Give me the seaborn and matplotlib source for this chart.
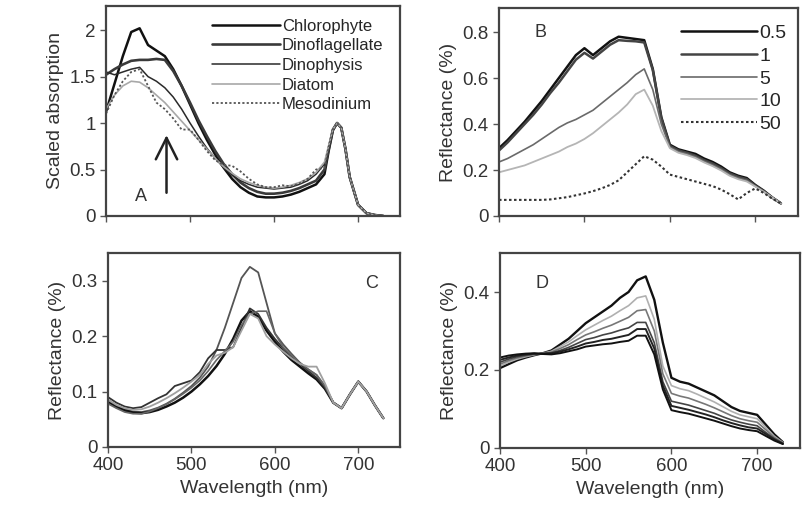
#!/usr/bin/env python3
"""
Absorption and reflectance spectra, four panels (A-D).
"""

import numpy as np
import pandas as pd
import matplotlib
matplotlib.use("Agg")
import matplotlib.pyplot as plt
from matplotlib.ticker import FuncFormatter
import seaborn as sns

# ------------------------------------------------------------
# Data
# ------------------------------------------------------------
WAVE_A = [400, 410, 420, 430, 440, 450, 460, 470, 480, 490, 500, 510, 520,
          530, 540, 550, 560, 570, 580, 590, 600, 610, 620, 630, 640, 650,
          660, 665, 670, 675, 680, 685, 690, 700, 710, 720, 730]

chlorophyte = [1.12, 1.42, 1.72, 1.98, 2.02, 1.84, 1.78, 1.72, 1.58, 1.40, 1.20, 1.00, 0.82,
               0.66, 0.52, 0.40, 0.31, 0.25, 0.21, 0.20, 0.20, 0.21, 0.23, 0.26, 0.30, 0.34,
               0.45, 0.70, 0.92, 1.00, 0.95, 0.72, 0.42, 0.12, 0.03, 0.01, 0.00]
dinoflagellate = [1.52, 1.58, 1.63, 1.67, 1.68, 1.68, 1.69, 1.68, 1.56, 1.40, 1.22, 1.03, 0.86,
                  0.70, 0.56, 0.45, 0.36, 0.30, 0.26, 0.24, 0.24, 0.25, 0.27, 0.30, 0.34, 0.38,
                  0.50, 0.72, 0.93, 1.00, 0.95, 0.72, 0.42, 0.12, 0.03, 0.01, 0.00]
dinophysis = [1.55, 1.52, 1.55, 1.58, 1.60, 1.50, 1.45, 1.38, 1.28, 1.15, 1.00, 0.86, 0.73,
              0.62, 0.52, 0.44, 0.38, 0.34, 0.31, 0.30, 0.29, 0.30, 0.31, 0.34, 0.38, 0.45,
              0.56, 0.75, 0.93, 1.00, 0.95, 0.72, 0.42, 0.12, 0.03, 0.01, 0.00]
diatom = [1.15, 1.30, 1.40, 1.45, 1.44, 1.38, 1.30, 1.22, 1.12, 1.02, 0.92, 0.82, 0.72,
          0.62, 0.53, 0.46, 0.40, 0.36, 0.33, 0.31, 0.30, 0.31, 0.33, 0.36, 0.40, 0.47,
          0.58, 0.76, 0.93, 1.00, 0.95, 0.72, 0.42, 0.12, 0.03, 0.01, 0.00]
mesodinium = [1.10, 1.30, 1.45, 1.55, 1.58, 1.40, 1.22, 1.15, 1.05, 0.93, 0.93, 0.82, 0.70,
              0.60, 0.55, 0.54, 0.48, 0.40, 0.34, 0.31, 0.31, 0.33, 0.32, 0.35, 0.40, 0.50,
              0.52, 0.74, 0.93, 1.00, 0.95, 0.72, 0.42, 0.12, 0.03, 0.01, 0.00]

WAVE = [400, 410, 420, 430, 440, 450, 460, 470, 480, 490, 500, 510, 520, 530,
        540, 550, 560, 570, 580, 590, 600, 610, 620, 630, 640, 650, 660, 670,
        680, 690, 700, 710, 720, 730]

# Panel B
b_05 = [0.295, 0.33, 0.37, 0.41, 0.455, 0.50, 0.55, 0.60, 0.65, 0.70, 0.73, 0.70, 0.73, 0.76,
        0.78, 0.775, 0.77, 0.765, 0.64, 0.43, 0.31, 0.29, 0.28, 0.27, 0.25, 0.235, 0.215, 0.19,
        0.175, 0.165, 0.135, 0.11, 0.08, 0.055]
b_1 = [0.285, 0.32, 0.36, 0.40, 0.44, 0.485, 0.535, 0.58, 0.63, 0.68, 0.71, 0.685, 0.715, 0.745,
       0.765, 0.762, 0.76, 0.755, 0.635, 0.425, 0.305, 0.285, 0.275, 0.262, 0.243, 0.228, 0.208, 0.185,
       0.17, 0.16, 0.132, 0.108, 0.08, 0.055]
b_5 = [0.235, 0.25, 0.27, 0.29, 0.31, 0.335, 0.36, 0.385, 0.405, 0.42, 0.44, 0.46, 0.49, 0.52,
       0.55, 0.58, 0.615, 0.64, 0.55, 0.40, 0.30, 0.28, 0.27, 0.257, 0.238, 0.222, 0.203, 0.18,
       0.165, 0.155, 0.13, 0.107, 0.08, 0.055]
b_10 = [0.19, 0.20, 0.21, 0.22, 0.235, 0.25, 0.265, 0.28, 0.30, 0.315, 0.335, 0.36, 0.39, 0.42,
        0.45, 0.485, 0.53, 0.55, 0.48, 0.37, 0.295, 0.275, 0.265, 0.252, 0.233, 0.217, 0.198, 0.175,
        0.16, 0.15, 0.128, 0.105, 0.08, 0.055]
b_50 = [0.07, 0.07, 0.07, 0.07, 0.07, 0.07, 0.072, 0.077, 0.082, 0.09, 0.098, 0.108, 0.12, 0.135,
        0.155, 0.19, 0.225, 0.26, 0.245, 0.215, 0.18, 0.17, 0.16, 0.15, 0.14, 0.13, 0.115, 0.095,
        0.072, 0.10, 0.12, 0.10, 0.075, 0.055]

# Panel C
c_1 = [0.085, 0.075, 0.068, 0.064, 0.063, 0.066, 0.071, 0.078, 0.087, 0.098, 0.11, 0.125, 0.145, 0.175,
       0.215, 0.26, 0.305, 0.325, 0.315, 0.26, 0.205, 0.185, 0.168, 0.152, 0.14, 0.13, 0.11, 0.08,
       0.07, 0.095, 0.118, 0.10, 0.075, 0.052]
c_2 = [0.082, 0.072, 0.066, 0.062, 0.061, 0.063, 0.067, 0.073, 0.08, 0.089, 0.10, 0.113, 0.128, 0.146,
       0.168, 0.195, 0.228, 0.245, 0.235, 0.21, 0.19, 0.172, 0.157, 0.145, 0.133, 0.122, 0.105, 0.08,
       0.07, 0.095, 0.118, 0.10, 0.075, 0.052]
c_3 = [0.09, 0.08, 0.073, 0.07, 0.072, 0.08, 0.088, 0.095, 0.11, 0.115, 0.12, 0.135, 0.16, 0.175,
       0.175, 0.18, 0.215, 0.25, 0.24, 0.215, 0.195, 0.178, 0.162, 0.15, 0.137, 0.125, 0.107, 0.08,
       0.07, 0.095, 0.118, 0.10, 0.075, 0.052]
c_4 = [0.078, 0.07, 0.063, 0.06, 0.06, 0.064, 0.07, 0.077, 0.086, 0.096, 0.107, 0.12, 0.137, 0.157,
       0.173, 0.19, 0.22, 0.24, 0.245, 0.245, 0.205, 0.18, 0.165, 0.152, 0.14, 0.13, 0.11, 0.08,
       0.07, 0.095, 0.118, 0.10, 0.075, 0.052]
c_5 = [0.085, 0.076, 0.07, 0.067, 0.068, 0.073, 0.08, 0.088, 0.097, 0.107, 0.118, 0.13, 0.15, 0.165,
       0.17, 0.18, 0.21, 0.24, 0.232, 0.20, 0.185, 0.172, 0.16, 0.15, 0.145, 0.145, 0.115, 0.08,
       0.07, 0.095, 0.118, 0.10, 0.075, 0.052]

# Panel D
d_1 = [0.205, 0.215, 0.225, 0.232, 0.238, 0.243, 0.25, 0.265, 0.28, 0.30, 0.32, 0.335, 0.35, 0.365,
       0.385, 0.40, 0.43, 0.44, 0.38, 0.27, 0.18, 0.17, 0.165, 0.155, 0.145, 0.135, 0.12, 0.105,
       0.095, 0.09, 0.085, 0.06, 0.035, 0.015]
d_2 = [0.21, 0.22, 0.228, 0.234, 0.239, 0.243, 0.248, 0.26, 0.272, 0.288, 0.303, 0.315, 0.327, 0.338,
       0.352, 0.365, 0.385, 0.39, 0.33, 0.21, 0.16, 0.152, 0.147, 0.138, 0.128, 0.118, 0.106, 0.094,
       0.085, 0.08, 0.075, 0.053, 0.03, 0.014]
d_3 = [0.215, 0.224, 0.231, 0.236, 0.24, 0.242, 0.246, 0.255, 0.265, 0.278, 0.29, 0.298, 0.307, 0.315,
       0.325, 0.335, 0.352, 0.355, 0.30, 0.19, 0.14, 0.133, 0.128, 0.12, 0.112, 0.103, 0.093, 0.083,
       0.075, 0.07, 0.066, 0.047, 0.027, 0.013]
d_4 = [0.22, 0.228, 0.234, 0.238, 0.241, 0.242, 0.244, 0.25, 0.258, 0.268, 0.278, 0.283, 0.29, 0.295,
       0.302, 0.308, 0.322, 0.322, 0.27, 0.17, 0.12, 0.115, 0.11, 0.103, 0.096, 0.089, 0.08, 0.072,
       0.066, 0.061, 0.057, 0.04, 0.024, 0.012]
d_5 = [0.226, 0.232, 0.237, 0.24, 0.242, 0.242, 0.243, 0.247, 0.253, 0.26, 0.268, 0.272, 0.277, 0.28,
       0.285, 0.29, 0.305, 0.305, 0.255, 0.16, 0.108, 0.103, 0.098, 0.092, 0.086, 0.079, 0.071, 0.064,
       0.058, 0.053, 0.05, 0.036, 0.022, 0.011]
d_6 = [0.232, 0.237, 0.24, 0.242, 0.243, 0.241, 0.24, 0.243, 0.248, 0.253, 0.26, 0.263, 0.266, 0.268,
       0.272, 0.275, 0.288, 0.288, 0.24, 0.15, 0.097, 0.092, 0.088, 0.082, 0.076, 0.07, 0.063, 0.056,
       0.05, 0.046, 0.043, 0.031, 0.019, 0.010]

# ------------------------------------------------------------
# Style
# ------------------------------------------------------------
sns.set_style("ticks")
plt.rcParams['font.family'] = ['Liberation Sans', 'DejaVu Sans']
plt.rcParams['axes.edgecolor'] = '#444444'
plt.rcParams['axes.linewidth'] = 1.6
plt.rcParams['xtick.color'] = '#555555'
plt.rcParams['ytick.color'] = '#555555'
plt.rcParams['xtick.labelcolor'] = '#333333'
plt.rcParams['ytick.labelcolor'] = '#333333'
plt.rcParams['xtick.major.size'] = 4
plt.rcParams['ytick.major.size'] = 4

TICK_FS = 13.5
LABEL_FS = 14
fmt = FuncFormatter(lambda v, p: f"{v:g}")

fig = plt.figure(figsize=(8.05, 5.26), dpi=100)
axA = fig.add_axes([0.1317, 0.5894, 0.3653, 0.3992])
axB = fig.add_axes([0.6199, 0.5894, 0.3714, 0.3954])
axC = fig.add_axes([0.1342, 0.1502, 0.3627, 0.3688])
axD = fig.add_axes([0.6211, 0.1483, 0.3727, 0.3707])


def draw(ax, x, y, color, lw, ls='-', label=None):
    sns.lineplot(x=x, y=y, ax=ax, color=color, lw=lw, linestyle=ls, label=label,
                 legend=False)


# Panel A
series_a = [('Chlorophyte', chlorophyte, '#111111', 1.8, '-'),
            ('Dinoflagellate', dinoflagellate, '#3a3a3a', 1.9, '-'),
            ('Dinophysis', dinophysis, '#2a2a2a', 1.1, '-'),
            ('Diatom', diatom, '#a8a8a8', 1.2, '-'),
            ('Mesodinium', mesodinium, '#555555', 1.3, (0, (1.2, 1.2)))]
for name, vals, col, lw, ls in series_a:
    draw(axA, WAVE_A, vals, col, lw, ls, name)
axA.legend(loc='upper left', bbox_to_anchor=(0.36, 0.94), frameon=False,
           fontsize=12, handlelength=4.1, handletextpad=0.1, labelspacing=0.28,
           borderpad=0, borderaxespad=0)
axA.set_ylim(0, 2.26)
axA.set_yticks([0, 0.5, 1, 1.5, 2])
axA.set_ylabel('Scaled absorption', fontsize=LABEL_FS, color='#333333')
axA.text(0.1, 0.07, 'A', transform=axA.transAxes, fontsize=13, color='#333333')
axA.annotate('', xy=(472, 0.9), xytext=(472, 0.22),
             arrowprops=dict(arrowstyle='->, head_width=0.35, head_length=0.7',
                             lw=1.8, color='#222222', mutation_scale=22))

# Panel B
series_b = [('0.5', b_05, '#111111', 1.8, '-'),
            ('1', b_1, '#444444', 1.8, '-'),
            ('5', b_5, '#6a6a6a', 1.2, '-'),
            ('10', b_10, '#b5b5b5', 1.3, '-'),
            ('50', b_50, '#333333', 1.5, (0, (1.2, 1.2)))]
for name, vals, col, lw, ls in series_b:
    draw(axB, WAVE, vals, col, lw, ls, name)
axB.legend(loc='upper left', bbox_to_anchor=(0.61, 0.92), frameon=False,
           fontsize=14, handlelength=3.9, handletextpad=0.1, labelspacing=0.26,
           borderpad=0, borderaxespad=0)
axB.set_ylim(0, 0.905)
axB.set_yticks([0, 0.2, 0.4, 0.6, 0.8])
axB.set_ylabel('Reflectance (%)', fontsize=LABEL_FS, color='#333333')
axB.text(0.12, 0.86, 'B', transform=axB.transAxes, fontsize=13, color='#333333')

# Panel C
series_c = [(c_1, '#555555', 1.3), (c_2, '#111111', 1.8), (c_3, '#333333', 1.3),
            (c_4, '#666666', 1.2), (c_5, '#a0a0a0', 1.3)]
for vals, col, lw in series_c:
    draw(axC, WAVE, vals, col, lw)
axC.set_ylim(0, 0.35)
axC.set_yticks([0, 0.1, 0.2, 0.3])
axC.set_ylabel('Reflectance (%)', fontsize=LABEL_FS, color='#333333')
axC.text(0.88, 0.82, 'C', transform=axC.transAxes, fontsize=13, color='#333333')

# Panel D
series_d = [(d_1, '#111111', 1.7), (d_2, '#b0b0b0', 1.2),
            (d_3, '#777777', 1.2), (d_4, '#444444', 1.2),
            (d_5, '#222222', 1.4), (d_6, '#111111', 1.4)]
for vals, col, lw in series_d:
    draw(axD, WAVE, vals, col, lw)
axD.set_ylim(0, 0.5)
axD.set_yticks([0, 0.2, 0.4])
axD.set_ylabel('Reflectance (%)', fontsize=LABEL_FS, color='#333333')
axD.text(0.12, 0.82, 'D', transform=axD.transAxes, fontsize=13, color='#333333')

for ax in (axA, axB, axC, axD):
    ax.set_xlim(400, 750)
    ax.set_xticks([400, 500, 600, 700])
    ax.yaxis.set_major_formatter(fmt)
    ax.tick_params(labelsize=TICK_FS, width=1)
    for s in ax.spines.values():
        s.set_visible(True)
    ax.set_xlabel('')

for ax in (axA, axB):
    ax.set_xticklabels([])
for ax in (axC, axD):
    ax.set_xlabel('Wavelength (nm)', fontsize=LABEL_FS, color='#333333')

fig.savefig('out.png', dpi=100)
plt.close(fig)
print("Saved: out.png")
